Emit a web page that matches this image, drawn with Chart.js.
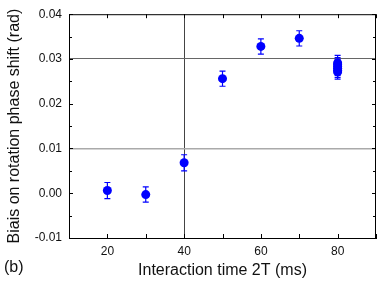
<!DOCTYPE html>
<html>
<head>
<meta charset="utf-8">
<script src="https://cdn.jsdelivr.net/npm/chart.js@4.4.1/dist/chart.umd.min.js"></script>
<style>
    html, body { margin: 0; padding: 0; background: #fff; }
    #wrap { width: 382px; height: 284px; }
</style>
</head>
<body>
<div id="wrap"><canvas id="chart" width="382" height="284"></canvas></div>
<script>
const times = [20, 30, 40, 50, 60, 70, 80, 80, 80, 80, 80, 80];
const shifts = [0.0006, -0.0003, 0.0068, 0.0256, 0.0328, 0.0346, 0.0291, 0.0287, 0.0283, 0.0279, 0.0275, 0.0271];
const errors = [0.0018, 0.0017, 0.0018, 0.0017, 0.0017, 0.0017, 0.0017, 0.0016, 0.0016, 0.0016, 0.0016, 0.0016];

const xLabels = [20, 40, 60, 80];
const FONT = '"Liberation Sans", Arial, sans-serif';
const BLUE = '#0000ff';

const near = (a, b) => Math.abs(a - b) < 1e-9;
const isMajorY = v => near(v * 100, Math.round(v * 100));

// Error bars drawn from the y scale
const errorBars = {
    id: 'errorBars',
    afterDatasetsDraw(chart) {
        const { ctx, scales: { x, y } } = chart;
        ctx.save();
        ctx.strokeStyle = BLUE;
        ctx.lineWidth = 1.2;
        times.forEach((t, i) => {
            const px = x.getPixelForValue(t);
            const top = y.getPixelForValue(shifts[i] + errors[i]);
            const bot = y.getPixelForValue(shifts[i] - errors[i]);
            ctx.beginPath();
            ctx.moveTo(px, top); ctx.lineTo(px, bot);
            ctx.moveTo(px - 3, top); ctx.lineTo(px + 3, top);
            ctx.moveTo(px - 3, bot); ctx.lineTo(px + 3, bot);
            ctx.stroke();
        });
        ctx.restore();
    }
};

// Box frame with inward ticks on all four sides, plus the panel tag
const frame = {
    id: 'frame',
    afterDraw(chart) {
        const { ctx, chartArea: a, scales: { x, y } } = chart;
        ctx.save();
        ctx.strokeStyle = '#000';
        ctx.lineWidth = 1;
        ctx.strokeRect(a.left + 0.5, a.top + 0.5, a.right - a.left - 1, a.bottom - a.top);
        ctx.beginPath();
        x.ticks.forEach(t => {
            const px = Math.round(x.getPixelForValue(t.value)) + 0.5;
            ctx.moveTo(px, a.bottom); ctx.lineTo(px, a.bottom - 4);
            ctx.moveTo(px, a.top); ctx.lineTo(px, a.top + 4);
        });
        y.ticks.forEach(t => {
            const py = Math.round(y.getPixelForValue(t.value)) + 0.5;
            const len = isMajorY(t.value) ? 4 : 3;
            ctx.moveTo(a.left, py); ctx.lineTo(a.left + len, py);
            ctx.moveTo(a.right, py); ctx.lineTo(a.right - len, py);
        });
        ctx.stroke();
        ctx.fillStyle = '#111';
        ctx.font = '16px ' + FONT;
        ctx.textBaseline = 'middle';
        ctx.fillText('(b)', 4, 268);
        ctx.restore();
    }
};

new Chart(document.getElementById('chart'), {
    type: 'scatter',
    data: {
        datasets: [{
            data: times.map((t, i) => ({ x: t, y: shifts[i] })),
            backgroundColor: BLUE,
            borderColor: BLUE,
            borderWidth: 0,
            pointRadius: 4.5,
            pointHoverRadius: 4.5
        }]
    },
    options: {
        responsive: false,
        animation: false,
        layout: { padding: { top: 13, right: 4, left: 0, bottom: 0 } },
        plugins: {
            legend: { display: false },
            tooltip: { enabled: false }
        },
        scales: {
            x: {
                type: 'linear',
                min: 10,
                max: 90,
                afterFit: s => { s.height = 46; },
                border: { display: true, color: '#000', width: 1 },
                grid: {
                    drawTicks: false,
                    color: c => (c.tick && near(c.tick.value, 40)) ? '#444' : 'rgba(0,0,0,0)',
                    lineWidth: 1
                },
                ticks: {
                    stepSize: 10,
                    autoSkip: false,
                    maxRotation: 0,
                    padding: 6,
                    color: '#111',
                    font: { family: FONT, size: 12 },
                    callback: v => xLabels.includes(v) ? String(v) : ''
                },
                title: {
                    display: true,
                    text: 'Interaction time 2T (ms)',
                    color: '#111',
                    font: { family: FONT, size: 16 },
                    padding: { top: 0, bottom: 4 }
                }
            },
            y: {
                min: -0.01,
                max: 0.04,
                afterFit: s => { s.width = 69; },
                border: { display: true, color: '#000', width: 1 },
                grid: {
                    drawTicks: false,
                    color: c => {
                        if (!c.tick) return 'rgba(0,0,0,0)';
                        if (near(c.tick.value, 0.03)) return '#666';
                        if (near(c.tick.value, 0.01)) return '#aaa';
                        return 'rgba(0,0,0,0)';
                    },
                    lineWidth: c => (c.tick && near(c.tick.value, 0.01)) ? 1.5 : 1
                },
                ticks: {
                    stepSize: 0.005,
                    autoSkip: false,
                    padding: 7,
                    color: '#111',
                    font: { family: FONT, size: 12 },
                    callback: v => isMajorY(v) ? v.toFixed(2) : ''
                },
                title: {
                    display: true,
                    text: 'Biais on rotation phase shift (rad)',
                    color: '#111',
                    font: { family: FONT, size: 16 },
                    padding: { top: 5, bottom: 0 }
                }
            }
        }
    },
    plugins: [errorBars, frame]
});
</script>
</body>
</html>
